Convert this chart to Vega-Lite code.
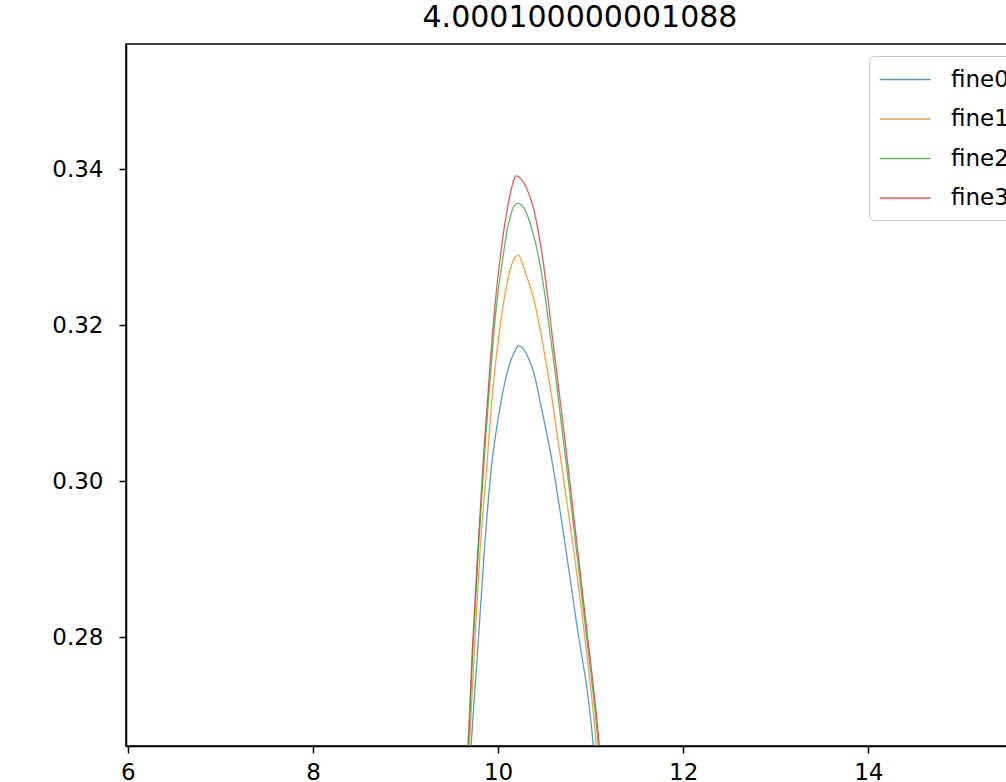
{
  "$schema": "https://vega.github.io/schema/vega-lite/v6.json",
  "width": 908,
  "height": 702,
  "padding": {"left": 0, "top": 3, "right": 0, "bottom": 0},
  "background": "white",
  "title": {"text": "4.000100000001088", "fontSize": 30, "font": "DejaVu Sans", "fontWeight": "normal", "color": "black", "offset": 11, "anchor": "middle"},
  "config": {
    "font": "DejaVu Sans",
    "view": {"stroke": "black", "strokeWidth": 1.5},
    "axis": {"domainColor": "black", "domainWidth": 1.5, "tickColor": "black", "tickWidth": 1.5, "tickSize": 7, "labelColor": "black", "labelFontSize": 23, "grid": false, "title": null, "labelPadding": 9}
  },
  "data": {"values": [
    {"series": "fine3", "x": 9.671, "y": 0.2655},
    {"series": "fine3", "x": 9.674, "y": 0.26606},
    {"series": "fine3", "x": 9.722, "y": 0.27837},
    {"series": "fine3", "x": 9.782, "y": 0.29119},
    {"series": "fine3", "x": 9.847, "y": 0.30401},
    {"series": "fine3", "x": 9.888, "y": 0.31068},
    {"series": "fine3", "x": 9.913, "y": 0.31491},
    {"series": "fine3", "x": 9.941, "y": 0.31914},
    {"series": "fine3", "x": 9.974, "y": 0.32350},
    {"series": "fine3", "x": 10.014, "y": 0.32773},
    {"series": "fine3", "x": 10.060, "y": 0.33196},
    {"series": "fine3", "x": 10.122, "y": 0.33632},
    {"series": "fine3", "x": 10.154, "y": 0.33799},
    {"series": "fine3", "x": 10.192, "y": 0.33914},
    {"series": "fine3", "x": 10.241, "y": 0.33886},
    {"series": "fine3", "x": 10.295, "y": 0.33788},
    {"series": "fine3", "x": 10.349, "y": 0.33632},
    {"series": "fine3", "x": 10.392, "y": 0.33453},
    {"series": "fine3", "x": 10.435, "y": 0.33196},
    {"series": "fine3", "x": 10.492, "y": 0.32773},
    {"series": "fine3", "x": 10.537, "y": 0.32350},
    {"series": "fine3", "x": 10.580, "y": 0.31914},
    {"series": "fine3", "x": 10.624, "y": 0.31491},
    {"series": "fine3", "x": 10.667, "y": 0.31068},
    {"series": "fine3", "x": 10.712, "y": 0.30632},
    {"series": "fine3", "x": 10.754, "y": 0.30209},
    {"series": "fine3", "x": 10.797, "y": 0.29760},
    {"series": "fine3", "x": 10.946, "y": 0.28222},
    {"series": "fine3", "x": 11.094, "y": 0.26606},
    {"series": "fine3", "x": 11.098, "y": 0.2655},

    {"series": "fine2", "x": 9.676, "y": 0.2655},
    {"series": "fine2", "x": 9.679, "y": 0.26606},
    {"series": "fine2", "x": 9.728, "y": 0.27837},
    {"series": "fine2", "x": 9.787, "y": 0.29119},
    {"series": "fine2", "x": 9.857, "y": 0.30401},
    {"series": "fine2", "x": 9.898, "y": 0.31068},
    {"series": "fine2", "x": 9.926, "y": 0.31491},
    {"series": "fine2", "x": 9.956, "y": 0.31914},
    {"series": "fine2", "x": 9.992, "y": 0.32350},
    {"series": "fine2", "x": 10.041, "y": 0.32773},
    {"series": "fine2", "x": 10.095, "y": 0.33196},
    {"series": "fine2", "x": 10.138, "y": 0.33414},
    {"series": "fine2", "x": 10.174, "y": 0.33529},
    {"series": "fine2", "x": 10.214, "y": 0.33561},
    {"series": "fine2", "x": 10.252, "y": 0.33542},
    {"series": "fine2", "x": 10.306, "y": 0.33440},
    {"series": "fine2", "x": 10.374, "y": 0.33196},
    {"series": "fine2", "x": 10.454, "y": 0.32773},
    {"series": "fine2", "x": 10.510, "y": 0.32350},
    {"series": "fine2", "x": 10.559, "y": 0.31914},
    {"series": "fine2", "x": 10.606, "y": 0.31491},
    {"series": "fine2", "x": 10.650, "y": 0.31068},
    {"series": "fine2", "x": 10.694, "y": 0.30632},
    {"series": "fine2", "x": 10.738, "y": 0.30209},
    {"series": "fine2", "x": 10.783, "y": 0.29760},
    {"series": "fine2", "x": 10.934, "y": 0.28222},
    {"series": "fine2", "x": 11.083, "y": 0.26606},
    {"series": "fine2", "x": 11.087, "y": 0.2655},

    {"series": "fine1", "x": 9.687, "y": 0.2655},
    {"series": "fine1", "x": 9.690, "y": 0.26606},
    {"series": "fine1", "x": 9.744, "y": 0.27837},
    {"series": "fine1", "x": 9.806, "y": 0.29119},
    {"series": "fine1", "x": 9.879, "y": 0.30209},
    {"series": "fine1", "x": 9.906, "y": 0.30632},
    {"series": "fine1", "x": 9.935, "y": 0.31068},
    {"series": "fine1", "x": 9.971, "y": 0.31491},
    {"series": "fine1", "x": 10.014, "y": 0.31914},
    {"series": "fine1", "x": 10.068, "y": 0.32350},
    {"series": "fine1", "x": 10.117, "y": 0.32645},
    {"series": "fine1", "x": 10.149, "y": 0.32786},
    {"series": "fine1", "x": 10.181, "y": 0.32863},
    {"series": "fine1", "x": 10.219, "y": 0.32901},
    {"series": "fine1", "x": 10.266, "y": 0.32773},
    {"series": "fine1", "x": 10.322, "y": 0.32581},
    {"series": "fine1", "x": 10.381, "y": 0.32350},
    {"series": "fine1", "x": 10.460, "y": 0.31914},
    {"series": "fine1", "x": 10.522, "y": 0.31491},
    {"series": "fine1", "x": 10.581, "y": 0.31068},
    {"series": "fine1", "x": 10.634, "y": 0.30632},
    {"series": "fine1", "x": 10.686, "y": 0.30209},
    {"series": "fine1", "x": 10.740, "y": 0.29760},
    {"series": "fine1", "x": 10.914, "y": 0.28222},
    {"series": "fine1", "x": 11.062, "y": 0.26606},
    {"series": "fine1", "x": 11.066, "y": 0.2655},

    {"series": "fine0", "x": 9.705, "y": 0.2655},
    {"series": "fine0", "x": 9.708, "y": 0.26606},
    {"series": "fine0", "x": 9.780, "y": 0.27837},
    {"series": "fine0", "x": 9.852, "y": 0.29119},
    {"series": "fine0", "x": 9.931, "y": 0.30209},
    {"series": "fine0", "x": 9.978, "y": 0.30632},
    {"series": "fine0", "x": 10.039, "y": 0.31068},
    {"series": "fine0", "x": 10.122, "y": 0.31491},
    {"series": "fine0", "x": 10.171, "y": 0.31644},
    {"series": "fine0", "x": 10.195, "y": 0.31703},
    {"series": "fine0", "x": 10.219, "y": 0.31735},
    {"series": "fine0", "x": 10.262, "y": 0.31709},
    {"series": "fine0", "x": 10.306, "y": 0.31632},
    {"series": "fine0", "x": 10.349, "y": 0.31517},
    {"series": "fine0", "x": 10.392, "y": 0.31363},
    {"series": "fine0", "x": 10.446, "y": 0.31068},
    {"series": "fine0", "x": 10.522, "y": 0.30632},
    {"series": "fine0", "x": 10.590, "y": 0.30209},
    {"series": "fine0", "x": 10.651, "y": 0.29760},
    {"series": "fine0", "x": 10.842, "y": 0.28222},
    {"series": "fine0", "x": 11.029, "y": 0.26606},
    {"series": "fine0", "x": 11.033, "y": 0.2655}
  ]},
  "mark": {"type": "line", "clip": true, "strokeWidth": 1.3, "opacity": 0.75, "interpolate": "monotone"},
  "encoding": {
    "x": {"field": "x", "type": "quantitative", "scale": {"domain": [5.98, 15.79], "nice": false, "zero": false}, "axis": {"values": [6, 8, 10, 12, 14], "format": "d", "labelPadding": 8}},
    "y": {"field": "y", "type": "quantitative", "scale": {"domain": [0.26603, 0.35606], "nice": false, "zero": false}, "axis": {"values": [0.28, 0.30, 0.32, 0.34], "format": ".2f", "minExtent": 126, "maxExtent": 126, "labelPadding": 16}},
    "color": {"field": "series", "type": "nominal", "sort": ["fine0", "fine1", "fine2", "fine3"],
      "scale": {"domain": ["fine0", "fine1", "fine2", "fine3"], "range": ["#1f77b4", "#ff7f0e", "#2ca02c", "#d62728"]},
      "legend": {"title": null, "orient": "none", "legendX": 743, "legendY": 12, "symbolType": "M-1,0H3", "symbolSize": 650, "symbolStrokeWidth": 1.3, "symbolOpacity": 0.75, "labelFontSize": 23, "labelColor": "black", "labelOffset": 45, "padding": 10, "rowPadding": 13.5, "strokeColor": "#cccccc", "cornerRadius": 5, "fillColor": "white"}
    }
  }
}
